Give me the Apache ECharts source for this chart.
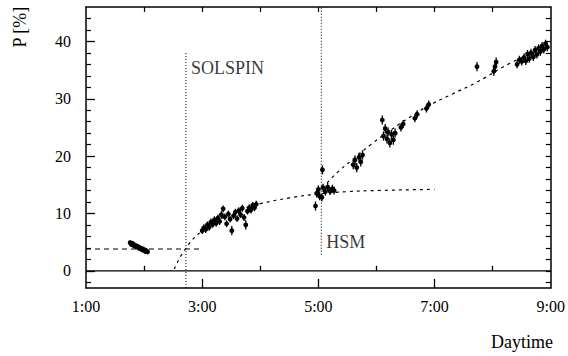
<!DOCTYPE html>
<html>
<head>
<meta charset="utf-8">
<script src="https://cdn.jsdelivr.net/npm/echarts@6/dist/echarts.min.js"></script>
<style>
  html, body { margin: 0; padding: 0; background: #fff; }
  #chart { width: 568px; height: 356px; }
</style>
</head>
<body>
<div id="chart"></div>
<script>
// measured points: hour of day, polarisation [%], error
const pointHours = [
  1.76, 1.78, 1.80, 1.82, 1.84, 1.86, 1.88, 1.90, 1.92, 1.94, 1.96, 1.98, 2.00, 2.02, 2.04, 2.06,
  3.00, 3.03, 3.06, 3.09, 3.12, 3.15, 3.18, 3.21, 3.24, 3.27, 3.30, 3.33, 3.36, 3.39, 3.42, 3.45,
  3.48, 3.51, 3.54, 3.57, 3.60, 3.63, 3.66, 3.69, 3.72, 3.75, 3.78, 3.81, 3.84, 3.87, 3.90, 3.93,
  4.95, 4.97, 5.00, 5.02, 5.06, 5.07, 5.08, 5.12, 5.16, 5.20, 5.24, 5.27,
  5.60, 5.63, 5.66, 5.70, 5.73, 5.76,
  6.10, 6.12, 6.15, 6.18, 6.20, 6.23, 6.26, 6.29, 6.32,
  6.42, 6.46, 6.66, 6.70, 6.86, 6.90,
  7.73, 8.02, 8.04, 8.06,
  8.42, 8.46, 8.50, 8.54, 8.57, 8.60, 8.63, 8.66, 8.70, 8.73, 8.76, 8.79, 8.82, 8.85, 8.88, 8.91, 8.94
];
const pointValues = [
  4.9, 4.6, 4.8, 4.4, 4.5, 4.2, 4.3, 4.0, 4.1, 3.8, 3.9, 3.6, 3.7, 3.4, 3.5, 3.3,
  7.0, 7.5, 7.2, 8.0, 7.6, 8.5, 8.1, 8.9, 8.3, 9.2, 8.6, 9.8, 10.8, 9.4, 8.2, 9.9,
  9.0, 7.0, 9.6, 10.2, 9.1, 10.5, 9.8, 10.9, 9.3, 8.0, 10.4, 11.0, 10.6, 11.4, 11.0, 11.6,
  11.3, 13.5, 14.2, 13.0, 12.8, 17.6, 14.5, 13.8, 14.6, 13.9, 14.3, 14.0,
  18.5, 19.3, 18.0, 19.8, 19.0, 20.2,
  26.3, 23.5, 24.8, 23.0, 24.2, 22.3, 23.8, 22.8, 24.0,
  25.0, 25.6, 26.6, 27.3, 28.3, 29.0,
  35.6, 34.8, 35.6, 36.4,
  36.0, 36.8, 36.5, 37.2, 36.6, 37.8, 37.0, 38.0, 37.3, 38.5, 37.7, 38.8, 38.2, 39.2, 38.6, 39.6, 39.0
];
const pointErrors = [
  0.4, 0.4, 0.4, 0.4, 0.4, 0.4, 0.4, 0.4, 0.4, 0.4, 0.4, 0.4, 0.4, 0.4, 0.4, 0.4,
  0.6, 0.6, 0.6, 0.6, 0.6, 0.6, 0.6, 0.6, 0.6, 0.6, 0.6, 0.6, 0.6, 0.6, 0.6, 0.6,
  0.6, 0.8, 0.6, 0.6, 0.6, 0.6, 0.6, 0.6, 0.6, 0.8, 0.6, 0.6, 0.6, 0.6, 0.6, 0.6,
  0.8, 0.7, 0.7, 0.7, 0.7, 0.8, 0.7, 0.7, 0.7, 0.7, 0.7, 0.7,
  0.8, 0.8, 0.8, 0.8, 0.8, 0.8,
  0.8, 0.8, 0.8, 0.8, 0.8, 0.8, 0.8, 0.8, 0.8,
  0.7, 0.7, 0.7, 0.7, 0.7, 0.7,
  0.8, 0.8, 0.8, 0.8,
  0.7, 0.7, 0.7, 0.7, 0.7, 0.7, 0.7, 0.7, 0.7, 0.7, 0.7, 0.7, 0.7, 0.7, 0.7, 0.7, 0.7
];

// dashed fit curves
const flatFitHours = [1.0, 2.95];
const flatFitValues = [3.8, 3.8];
const satFitHours = [2.52, 2.71, 3.0, 3.3, 3.7, 4.0, 4.5, 5.0, 5.5, 6.0, 7.0];
const satFitValues = [0.3, 3.8, 7.0, 9.0, 10.8, 11.7, 12.7, 13.4, 13.8, 14.0, 14.2];
const riseFitHours = [5.0, 5.26, 5.6, 5.9, 6.2, 6.5, 6.88, 7.3, 7.73, 8.3, 8.88, 9.0];
const riseFitValues = [13.4, 16.5, 19.5, 22.0, 24.2, 26.3, 28.7, 30.8, 32.9, 36.2, 38.8, 39.3];

// markers
const solspinHours = [2.72, 2.72];
const solspinValues = [-3, 38];
const hsmHours = [5.05, 5.05];
const hsmValues = [2.8, 46];
const zeroHours = [1, 9];
const zeroValues = [0, 0];
const markerNames = ['SOLSPIN', 'HSM'];
const markerLabelHours = [2.72, 5.05];
const markerLabelValues = [35.3, 5.0];

const xLabelTicks = [1, 3, 5, 7, 9];
const xMajorTicks = [3, 5, 7];
const xMinorTicks = [2, 4, 6, 8];
const yLabelTicks = [0, 10, 20, 30, 40];
const yMinorTicks = [-2, 2, 4, 6, 8, 12, 14, 16, 18, 22, 24, 26, 28, 32, 34, 36, 38, 42, 44];

const font = 'Liberation Serif';
const pair = (xs, ys) => xs.map((x, i) => [x, ys[i]]);

const chart = echarts.init(document.getElementById('chart'), null, { renderer: 'svg' });

const xBase = { type: 'value', min: 1, max: 9, gridIndex: 0, splitLine: { show: false } };
const yBase = { type: 'value', min: -3, max: 46, gridIndex: 0, splitLine: { show: false } };
const blackLine = { lineStyle: { color: '#000', width: 1.5 } };

chart.setOption({
  animation: false,
  grid: { left: 86, right: 13, top: 7, bottom: 68 },
  xAxis: [
    {
      ...xBase, position: 'bottom',
      axisLine: { onZero: false, ...blackLine },
      axisTick: { inside: true, length: 9, customValues: xMajorTicks, lineStyle: { color: '#000', width: 1.3 } },
      axisLabel: { customValues: xLabelTicks, formatter: (v) => v + ':00', fontFamily: font, fontSize: 16, color: '#000', margin: 10 }
    },
    {
      ...xBase, position: 'bottom',
      axisLine: { show: false },
      axisTick: { inside: true, length: 5, customValues: xMinorTicks, lineStyle: { color: '#000', width: 1.3 } },
      axisLabel: { show: false }
    },
    {
      ...xBase, position: 'top',
      axisLine: { onZero: false, ...blackLine },
      axisTick: { inside: true, length: 5, customValues: xMinorTicks.concat(xMajorTicks), lineStyle: { color: '#000', width: 1.2 } },
      axisLabel: { show: false }
    }
  ],
  yAxis: [
    {
      ...yBase, position: 'left',
      axisLine: { onZero: false, ...blackLine },
      axisTick: { inside: true, length: 9, customValues: yLabelTicks, lineStyle: { color: '#000', width: 1.3 } },
      axisLabel: { customValues: yLabelTicks, fontFamily: font, fontSize: 16, color: '#000', margin: 15 }
    },
    {
      ...yBase, position: 'left',
      axisLine: { show: false },
      axisTick: { inside: true, length: 5, customValues: yMinorTicks, lineStyle: { color: '#000', width: 1.2 } },
      axisLabel: { show: false }
    },
    {
      ...yBase, position: 'right',
      axisLine: { onZero: false, ...blackLine },
      axisTick: { inside: true, length: 5, customValues: yMinorTicks.concat(yLabelTicks), lineStyle: { color: '#000', width: 1.2 } },
      axisLabel: { show: false }
    }
  ],
  graphic: [
    { type: 'text', left: 11, top: 6, rotation: Math.PI / 2, style: { text: 'P [%]', font: '18px "Liberation Serif"', fill: '#000' } },
    { type: 'text', right: 15, top: 333, style: { text: 'Daytime', font: '18px "Liberation Serif"', fill: '#000' } }
  ],
  series: [
    {
      type: 'line', data: pair(zeroHours, zeroValues), symbol: 'none',
      lineStyle: { color: '#000', width: 1.3 }
    },
    {
      type: 'line', data: pair(solspinHours, solspinValues), symbol: 'none',
      lineStyle: { color: '#000', width: 1, type: [1, 2] }
    },
    {
      type: 'line', data: pair(hsmHours, hsmValues), symbol: 'none',
      lineStyle: { color: '#000', width: 1, type: [1, 2] }
    },
    {
      type: 'scatter', symbolSize: 0,
      data: markerNames.map((n, i) => ({ name: n, value: [markerLabelHours[i], markerLabelValues[i]] })),
      label: { show: true, formatter: '{b}', position: 'right', distance: 5, fontFamily: font, fontSize: 18, color: '#000' }
    },
    {
      type: 'line', data: pair(flatFitHours, flatFitValues), symbol: 'none',
      lineStyle: { color: '#000', width: 1.2, type: [5, 4] }
    },
    {
      type: 'line', data: pair(satFitHours, satFitValues), symbol: 'none', smooth: true,
      lineStyle: { color: '#000', width: 1.2, type: [3, 4] }
    },
    {
      type: 'line', data: pair(riseFitHours, riseFitValues), symbol: 'none', smooth: true,
      lineStyle: { color: '#000', width: 1.2, type: [3, 4] }
    },
    {
      type: 'custom',
      data: pointHours.map((h, i) => [h, pointValues[i], pointErrors[i]]),
      encode: { x: 0, y: 1 },
      renderItem: (params, api) => {
        const x = api.value(0), y = api.value(1), e = api.value(2);
        const top = api.coord([x, y + e]);
        const bot = api.coord([x, y - e]);
        const c = api.coord([x, y]);
        return {
          type: 'group',
          children: [
            { type: 'line', shape: { x1: top[0], y1: top[1], x2: bot[0], y2: bot[1] }, style: { stroke: '#000', lineWidth: 1.3 } },
            { type: 'circle', shape: { cx: c[0], cy: c[1], r: 2.4 }, style: { fill: '#000' } }
          ]
        };
      }
    }
  ]
});
</script>
</body>
</html>
